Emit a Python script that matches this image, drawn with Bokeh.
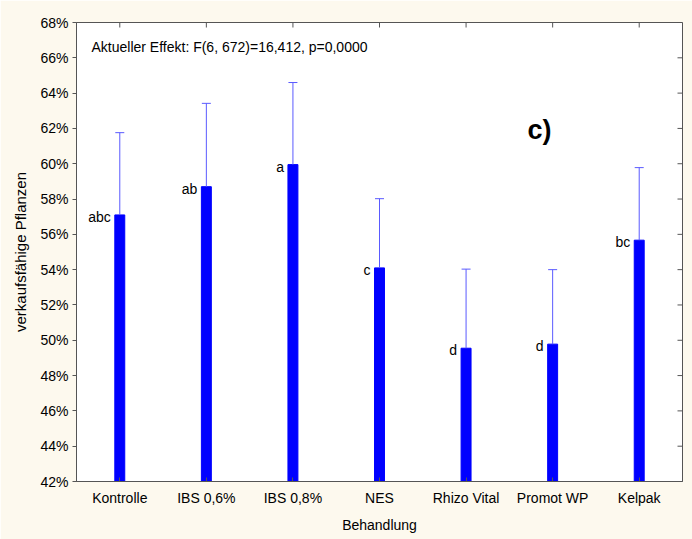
import math
from bokeh.plotting import figure
from bokeh.models import (FactorRange, Range1d, PrintfTickFormatter, FixedTicker,
                          Label, ColumnDataSource)
from bokeh.core.properties import value
from bokeh.embed import file_html
from bokeh.resources import INLINE

categories = ["Kontrolle", "IBS 0,6%", "IBS 0,8%", "NES", "Rhizo Vital", "Promot WP", "Kelpak"]
means = [57.1, 58.7, 59.95, 54.1, 49.55, 49.78, 55.67]
upper = [61.76, 63.42, 64.6, 58.02, 54.03, 54.0, 59.78]
letters = ["abc", "ab", "a", "c", "d", "d", "bc"]
y_ticks = list(range(42, 69, 2))

FONT = "Liberation Sans"
BLUE = "#0000FF"
WHISK = "#5A5AFF"
AX = "#555555"
Y_MIN, Y_MAX = 42, 68

src = ColumnDataSource(dict(cat=categories, mean=means, upper=upper, letter=letters))

p = figure(width=692, height=539, x_range=FactorRange(*categories, range_padding=0),
           y_range=Range1d(Y_MIN, Y_MAX), output_backend="svg", toolbar_location=None,
           min_border_left=76, min_border_right=10, min_border_top=22, min_border_bottom=58)
p.background_fill_color = "white"
p.border_fill_color = "#FDF9EE"
p.outline_line_color = AX
p.xgrid.visible = False
p.ygrid.visible = False

p.vbar(x="cat", top="mean", bottom=Y_MIN, width=0.115, color=BLUE, source=src)
p.segment(x0="cat", y0="mean", x1="cat", y1="upper", line_color=WHISK, line_width=1, source=src)
p.scatter(x="cat", y="upper", marker="dash", size=9, line_color=WHISK, line_width=1, source=src)
p.text(x="cat", y="mean", text="letter", source=src, x_offset=-9, y_offset=2,
       text_align="right", text_baseline="middle", text_font=value(FONT),
       text_font_size="14px", text_color="black")

# inward ticks on the right and top frame edges (clipped half markers)
n = len(categories)
p.scatter(x=[n] * len(y_ticks), y=y_ticks, marker="dash", size=10, line_color=AX, line_width=1)
p.scatter(x=categories, y=[Y_MAX] * n, marker="dash", angle=math.pi / 2, size=10,
          line_color=AX, line_width=1)

# axes styling
ya = p.yaxis[0]
ya.ticker = FixedTicker(ticks=y_ticks)
ya.formatter = PrintfTickFormatter(format="%d%%")
ya.axis_label = "verkaufsfähige Pflanzen"
for ax in (p.xaxis[0], ya):
    ax.axis_line_color = AX
    ax.major_tick_line_color = AX
    ax.minor_tick_line_color = None
    ax.major_tick_out = 4
    ax.major_tick_in = 0
    ax.major_label_text_font = FONT
    ax.major_label_text_font_size = "14px"
    ax.major_label_text_color = "black"
    ax.axis_label_text_font = FONT
    ax.axis_label_text_font_size = "14px"
    ax.axis_label_text_font_style = "normal"
    ax.axis_label_text_color = "black"
ya.major_label_standoff = 4
ya.axis_label_text_font_size = "15px"
ya.axis_label_standoff = 8
xa = p.xaxis[0]
xa.axis_label = "Behandlung"
xa.major_tick_out = 0
xa.major_tick_in = 4
xa.major_label_standoff = 8
xa.axis_label_standoff = 8

p.add_layout(Label(x=0.173, y=66.6, text="Aktueller Effekt: F(6, 672)=16,412, p=0,0000",
                   text_font=FONT, text_font_size="14px", text_baseline="middle",
                   text_color="black"))
p.add_layout(Label(x=5.21, y=61.9, text="c)", text_font=FONT, text_font_size="27px",
                   text_font_style="bold", text_baseline="middle", text_color="black"))

open("out.html", "w").write(file_html(p, INLINE))
